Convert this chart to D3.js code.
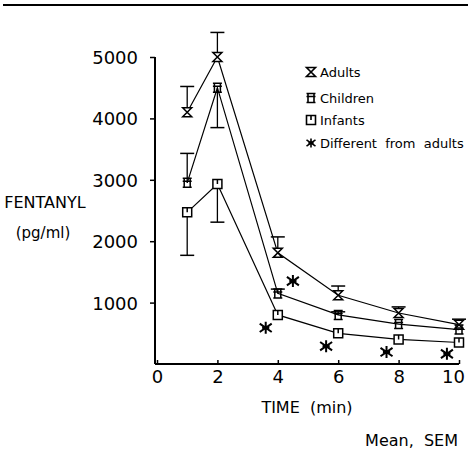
<!DOCTYPE html>
<html>
<head>
<meta charset="utf-8">
<script src="https://cdn.jsdelivr.net/npm/d3@7"></script>
<style>
  body { margin: 0; background: #fff; }
  svg text { font-family: "Liberation Sans Narrow", "DejaVu Sans", sans-serif; fill: #000; }
</style>
</head>
<body>
<svg id="chart" width="468" height="464"></svg>
<script>
// time points (min)
const times = [1, 2, 4, 6, 8, 10];
// mean fentanyl (pg/ml) and SEM
const adults = [4100, 5000, 1810, 1120, 830, 640];
const adultsSem = [420, 400, 260, 150, 100, 90];
const children = [2950, 4500, 1150, 800, 650, 560];
const childrenSem = [480, -650, 70, 50, 0, 0];
const infants = [2470, 2930, 800, 500, 400, 350];
const infantsSem = [-700, -620, 0, 0, 0, 0];
// "different from adults" markers
const diffT = [3.6, 4.5, 5.6, 7.6, 9.6];
const diffV = [590, 1350, 290, 195, 165];
const xTicks = [0, 2, 4, 6, 8, 10];
const yTicks = [1000, 2000, 3000, 4000, 5000];

const svg = d3.select("#chart");
const x = d3.scaleLinear().domain([0, 10]).range([157, 459]);
const y = d3.scaleLinear().domain([0, 5000]).range([364, 57]);

// top rule
svg.append("line").attr("x1", 3).attr("x2", 468).attr("y1", 5).attr("y2", 5)
  .attr("stroke", "#000").attr("stroke-width", 2);

// axes
const xAxis = svg.append("g").attr("transform", "translate(0,364)")
  .call(d3.axisBottom(x).tickValues(xTicks).tickFormat(d3.format("d")).tickSize(-4).tickPadding(6));
const yAxis = svg.append("g").attr("transform", "translate(155,0)")
  .call(d3.axisLeft(y).tickValues(yTicks).tickFormat(d3.format("d")).tickSize(5).tickPadding(12));
[xAxis, yAxis].forEach(a => {
  a.select(".domain").attr("stroke-width", 2);
  a.selectAll(".tick line").attr("stroke-width", 1.5);
  a.selectAll("text").style("font-size", "18px")
    .style("font-family", "'DejaVu Sans', sans-serif").attr("fill", "#000");
});
xAxis.select(".domain").attr("d", "M155,0H459");
// last label sits slightly left of its tick, as in the original
xAxis.selectAll(".tick text").filter(d => d === 10).attr("dx", -6);
yAxis.select(".domain").attr("d", "M0,364V57");
yAxis.selectAll(".tick text").attr("dy", "0.36em");

const line = d3.line().x((d, i) => x(times[i])).y(d => y(d));

function errorBars(vals, sem) {
  vals.forEach((v, i) => {
    if (!sem[i]) return;
    const cx = x(times[i]), y1 = y(v), y2 = y(v + sem[i]);
    svg.append("line").attr("x1", cx).attr("x2", cx).attr("y1", y1).attr("y2", y2)
      .attr("stroke", "#000").attr("stroke-width", 1.3);
    svg.append("line").attr("x1", cx - 7).attr("x2", cx + 7).attr("y1", y2).attr("y2", y2)
      .attr("stroke", "#000").attr("stroke-width", 1.5);
  });
}

// marker shapes
function hourglass(s) { return `M${-s},${-s}H${s}L${-s},${s}H${s}Z`; }
function boxed(s) { return `M${-s},${-s}H${s}M${-s},${s}H${s}M${-s + 1.5},${-s}V${s}M${s - 1.5},${-s}V${s}M${-s},${-s/3}H${s}`; }
function square(s) { return `M${-s},${-s}H${s}V${s}H${-s}Z M0,${-s}V0`; }

const series = [
  { vals: adults, sem: adultsSem, shape: hourglass },
  { vals: children, sem: childrenSem, shape: boxed },
  { vals: infants, sem: infantsSem, shape: square }
];
series.forEach(s => {
  errorBars(s.vals, s.sem);
  svg.append("path").attr("d", line(s.vals)).attr("fill", "none")
    .attr("stroke", "#000").attr("stroke-width", 1.2);
  svg.selectAll(null).data(s.vals).enter().append("path")
    .attr("transform", (d, i) => `translate(${x(times[i])},${y(d)})`)
    .attr("d", s.shape(4.5)).attr("fill", "#fff").attr("stroke", "#000").attr("stroke-width", 1.5);
});

function star(s) {
  return `M0,${-s}V${s}M${-s},${-s * 0.7}L${s},${s * 0.7}M${-s},${s * 0.7}L${s},${-s * 0.7}M${-s*0.6},0H${s*0.6}`;
}
svg.selectAll(null).data(diffV).enter().append("path")
  .attr("transform", (d, i) => `translate(${x(diffT[i])},${y(d)})`)
  .attr("d", star(6)).attr("fill", "none").attr("stroke", "#000").attr("stroke-width", 2);

// legend
const legend = [
  { label: "Adults", shape: hourglass, y: 72 },
  { label: "Children", shape: boxed, y: 98 },
  { label: "Infants", shape: square, y: 120 },
  { label: "Different  from  adults", shape: star, y: 143 }
];
legend.forEach(l => {
  svg.append("path").attr("transform", `translate(311,${l.y})`).attr("d", l.shape(4.5))
    .attr("fill", "#fff").attr("stroke", "#000").attr("stroke-width", 1.6);
  svg.append("text").attr("x", 320).attr("y", l.y).attr("dy", "0.36em")
    .style("font-size", "13px").style("white-space", "pre").text(l.label);
});

// axis titles
svg.append("text").attr("x", 45).attr("y", 202).attr("dy", "0.36em").attr("text-anchor", "middle")
  .style("font-size", "16px").text("FENTANYL");
svg.append("text").attr("x", 43).attr("y", 233).attr("dy", "0.36em").attr("text-anchor", "middle")
  .style("font-size", "15px").text("(pg/ml)");
svg.append("text").attr("x", 307).attr("y", 407).attr("dy", "0.36em").attr("text-anchor", "middle")
  .style("font-size", "16px").style("white-space", "pre").text("TIME  (min)");
svg.append("text").attr("x", 458).attr("y", 440).attr("dy", "0.36em").attr("text-anchor", "end")
  .style("font-size", "16px").style("white-space", "pre").text("Mean,  SEM");
</script>
</body>
</html>
